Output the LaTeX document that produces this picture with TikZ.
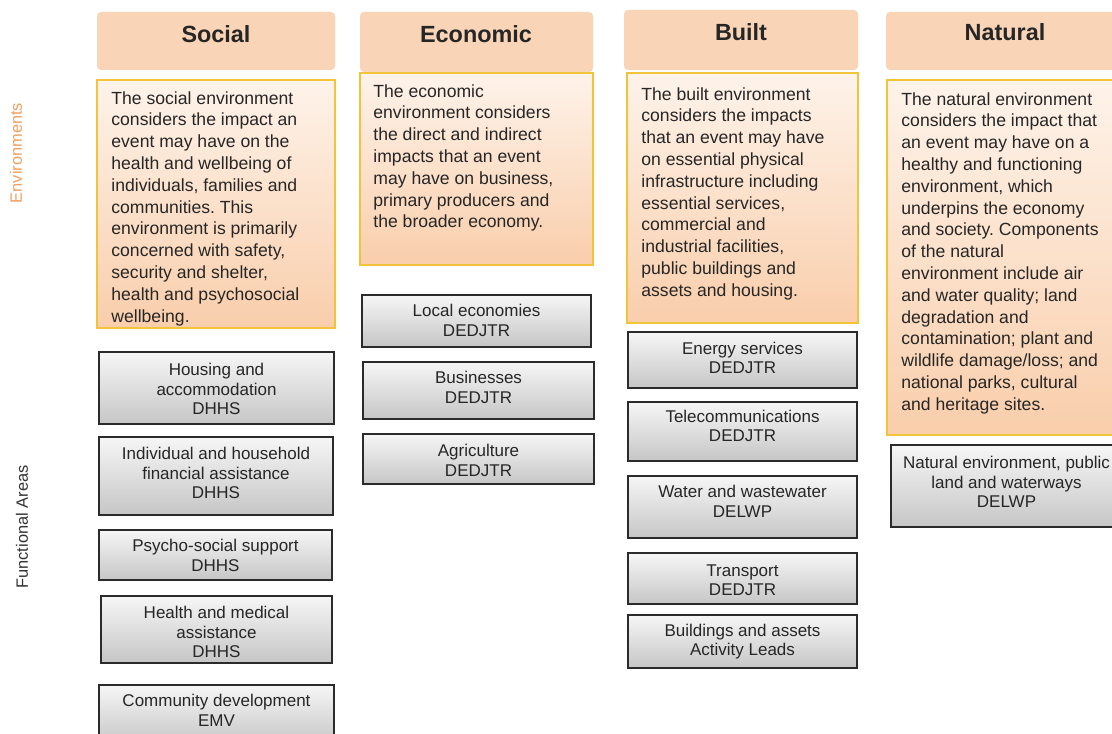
\documentclass[tikz,border=0pt]{standalone}
\usepackage{fontspec}
\setmainfont{Liberation Sans}
\frenchspacing
\definecolor{headfill}{HTML}{F9D4B6}
\definecolor{envtop}{HTML}{FEF3EA}
\definecolor{envbot}{HTML}{F9CEAB}
\definecolor{envline}{HTML}{F2C43A}
\definecolor{fatop}{HTML}{F6F6F6}
\definecolor{fabot}{HTML}{C6C6C6}
\definecolor{faline}{HTML}{2B2B2B}
\definecolor{envorange}{HTML}{F0A060}
\tikzset{
  headbox/.style={fill=headfill, rounded corners=2pt},
  headtext/.style={font=\fontsize{11.7}{14}\selectfont\bfseries, text=black!85, inner sep=0pt},
  envbox/.style={draw=envline, line width=1pt, top color=envtop, bottom color=envbot},
  envtext/.style={font=\fontsize{8.8}{10.9}\selectfont, align=left, anchor=north west, inner sep=0pt, text=black!85},
  fabox/.style={draw=faline, line width=1pt, top color=fatop, bottom color=fabot},
  fatext/.style={font=\fontsize{8.5}{9.75}\selectfont, align=center, inner sep=0pt, text=black!85},
  sidelabel/.style={font=\fontsize{8.2}{10}\selectfont, rotate=90, inner sep=0pt}
}
\begin{document}
\begin{tikzpicture}[x=0.5pt,y=-0.5pt]
\fill [white] (0,0) rectangle (1112,733);
\useasboundingbox (0,0) rectangle (1112,733);
\node [sidelabel, text=envorange] (envs) at (16,153) {Environments};
\node [sidelabel, text=black!80] (fareas) at (22,527) {Functional Areas};
\path [headbox] (97,12) rectangle (335,70);
\path [headbox] (360,12) rectangle (593,72);
\path [headbox] (624,10) rectangle (858,70);
\path [headbox] (886,12) rectangle (1124,70);
\node [headtext] (hsoc) at (216,34) {Social};
\node [headtext] (heco) at (476,34) {Economic};
\node [headtext] (hbui) at (741,32) {Built};
\node [headtext] (hnat) at (1005,32) {Natural};
\draw [envbox] (97,80) rectangle (335,328);
\draw [envbox] (360,73) rectangle (593,265);
\draw [envbox] (627,73) rectangle (858,323);
\draw [envbox] (887,80) rectangle (1124,435);
\node [envtext] (tsoc) at (111,91) {The social environment\\considers the impact an\\event may have on the\\health and wellbeing of\\individuals, families and\\communities. This\\environment is primarily\\concerned with safety,\\security and shelter,\\health and psychosocial\\wellbeing.};
\node [envtext] (teco) at (373,84) {The economic\\environment considers\\the direct and indirect\\impacts that an event\\may have on business,\\primary producers and\\the broader economy.};
\node [envtext] (tbui) at (641,87) {The built environment\\considers the impacts\\that an event may have\\on essential physical\\infrastructure including\\essential services,\\commercial and\\industrial facilities,\\public buildings and\\assets and housing.};
\node [envtext] (tnat) at (901,92) {The natural environment\\considers the impact that\\an event may have on a\\healthy and functioning\\environment, which\\underpins the economy\\and society. Components\\of the natural\\environment include air\\and water quality; land\\degradation and\\contamination; plant and\\wildlife damage/loss; and\\national parks, cultural\\and heritage sites.};
\draw [fabox] (99,352) rectangle (334,424);
\draw [fabox] (99,437) rectangle (333,515);
\draw [fabox] (99,530) rectangle (332,580);
\draw [fabox] (101,596) rectangle (332,663);
\draw [fabox] (99,685) rectangle (334,745);
\node [fatext] (soc1) at (216.5,389) {Housing and\\accommodation\\DHHS};
\node [fatext] (soc2) at (216,473) {Individual and household\\financial assistance\\DHHS};
\node [fatext] (soc3) at (215.5,555.5) {Psycho-social support\\DHHS};
\node [fatext] (soc4) at (216.5,632) {Health and medical\\assistance\\DHHS};
\node [fatext] (soc5) at (216.5,710.5) {Community development\\EMV};
\draw [fabox] (362,295) rectangle (591,347);
\draw [fabox] (363,362) rectangle (594,419);
\draw [fabox] (363,434) rectangle (594,484);
\node [fatext] (eco1) at (476.5,320.5) {Local economies\\DEDJTR};
\node [fatext] (eco2) at (478.5,387.5) {Businesses\\DEDJTR};
\node [fatext] (eco3) at (478.5,460.5) {Agriculture\\DEDJTR};
\draw [fabox] (628,332) rectangle (857,388);
\draw [fabox] (628,402) rectangle (857,461);
\draw [fabox] (628,476) rectangle (857,538);
\draw [fabox] (628,553) rectangle (857,604);
\draw [fabox] (628,615) rectangle (857,668);
\node [fatext] (bui1) at (742.5,358) {Energy services\\DEDJTR};
\node [fatext] (bui2) at (742.5,426) {Telecommunications\\DEDJTR};
\node [fatext] (bui3) at (742.5,501.5) {Water and wastewater\\DELWP};
\node [fatext] (bui4) at (742.5,580) {Transport\\DEDJTR};
\node [fatext] (bui5) at (742.5,641.5) {Buildings and assets\\Activity Leads};
\draw [fabox] (891,445) rectangle (1124,527);
\node [fatext] (nat1) at (1006.5,482) {Natural environment, public\\land and waterways\\DELWP};
\end{tikzpicture}
\end{document}
